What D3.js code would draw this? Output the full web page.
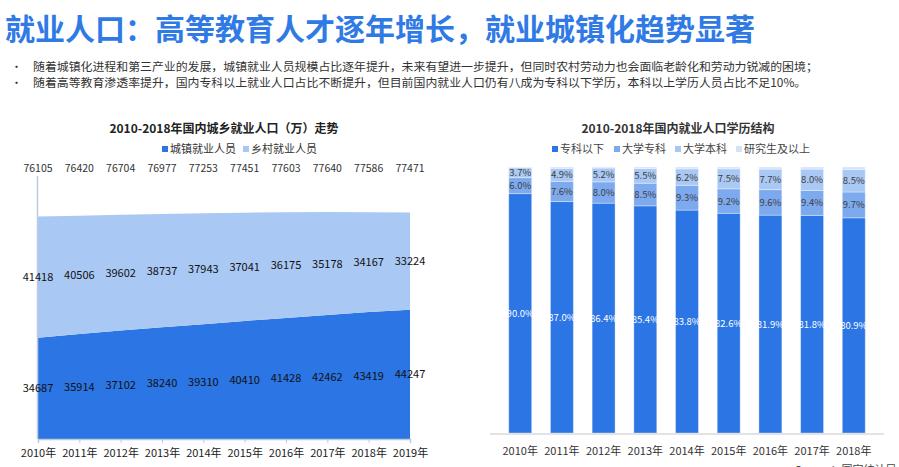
<!DOCTYPE html>
<html>
<head>
<meta charset="utf-8">
<script src="https://cdn.jsdelivr.net/npm/d3@7/dist/d3.min.js"></script>
<style>
  body { margin: 0; background: #fff; }
  svg { display: block; font-family: "Noto Sans CJK SC", "Noto Sans", sans-serif; }
</style>
</head>
<body>
<svg id="chart" width="899" height="467"></svg>
<script>
// left chart: urban / rural employment (万人)
var years = ['2010年', '2011年', '2012年', '2013年', '2014年', '2015年', '2016年', '2017年', '2018年', '2019年'];
var urban = [34687, 35914, 37102, 38240, 39310, 40410, 41428, 42462, 43419, 44247];
var rural = [41418, 40506, 39602, 38737, 37943, 37041, 36175, 35178, 34167, 33224];
var totals = [76105, 76420, 76704, 76977, 77253, 77451, 77603, 77640, 77586, 77471];

// right chart: education structure (%)
var eduYears = ['2010年', '2011年', '2012年', '2013年', '2014年', '2015年', '2016年', '2017年', '2018年'];
var belowCollege = [90.0, 87.0, 86.4, 85.4, 83.8, 82.6, 81.9, 81.8, 80.9];
var college = [6.0, 7.6, 8.0, 8.5, 9.3, 9.2, 9.6, 9.4, 9.7];
var bachelor = [3.7, 4.9, 5.2, 5.5, 6.2, 7.5, 7.7, 8.0, 8.5];
var graduate = [0.3, 0.5, 0.4, 0.6, 0.7, 0.7, 0.8, 0.8, 0.9];

var svg = d3.select('#chart');

// header
svg.append('text')
  .attr('x', 5).attr('y', 40)
  .attr('font-size', 30).attr('font-weight', 'bold')
  .attr('fill', '#2F7AE5')
  .text('就业人口：高等教育人才逐年增长，就业城镇化趋势显著');

var bullets = [
  '随着城镇化进程和第三产业的发展，城镇就业人员规模占比逐年提升，未来有望进一步提升，但同时农村劳动力也会面临老龄化和劳动力锐减的困境；',
  '随着高等教育渗透率提升，国内专科以上就业人口占比不断提升，但目前国内就业人口仍有八成为专科以下学历，本科以上学历人员占比不足10%。'
];
bullets.forEach(function(t, i) {
  var y = 71 + i * 16;
  svg.append('text').attr('x', 11).attr('y', y).attr('font-size', 11).attr('fill', '#333').text('•');
  svg.append('text').attr('x', 33).attr('y', y).attr('font-size', 11.9).attr('fill', '#333').text(t);
});

// ---------- left: stacked area ----------
var dark = '#2B75E4';
var light = '#A9C8F4';

var x = d3.scalePoint().domain(years).range([38, 410]);
var y = d3.scaleLinear().domain([0, 90000]).range([439, 176]);

var rows = years.map(function(yr, i) { return {year: yr, urban: urban[i], rural: rural[i]}; });
var series = d3.stack().keys(['urban', 'rural'])(rows);

var area = d3.area()
  .x(function(d) { return x(d.data.year); })
  .y0(function(d) { return y(d[0]); })
  .y1(function(d) { return y(d[1]); });

var left = svg.append('g');
left.selectAll('path.area').data(series).enter().append('path')
  .attr('class', 'area')
  .attr('d', area)
  .attr('fill', function(d, i) { return i === 0 ? dark : light; });

// axes
left.append('line').attr('x1', 37.5).attr('x2', 37.5).attr('y1', 176).attr('y2', 439)
  .attr('stroke', '#BCCBDD').attr('stroke-width', 1.5);
var xAxis = left.append('g').attr('transform', 'translate(0,439)')
  .call(d3.axisBottom(x).tickSize(4).tickPadding(6));
xAxis.select('.domain').attr('stroke', '#BCCBDD').attr('stroke-width', 1.5);
xAxis.selectAll('.tick line').attr('stroke', '#BCCBDD');
xAxis.selectAll('text').attr('font-size', 11).attr('fill', '#222')
  .attr('font-family', '"Noto Sans CJK SC", sans-serif');

// labels
series.forEach(function(s) {
  left.selectAll(null).data(s).enter().append('text')
    .attr('x', function(d) { return x(d.data.year); })
    .attr('y', function(d) { return (y(d[0]) + y(d[1])) / 2 + 4; })
    .attr('text-anchor', 'middle').attr('font-size', 11).attr('fill', '#111')
    .text(function(d) { return d.data[s.key]; });
});
left.selectAll(null).data(totals).enter().append('text')
  .attr('x', function(d, i) { return x(years[i]); })
  .attr('y', 172)
  .attr('text-anchor', 'middle').attr('font-size', 10.5).attr('fill', '#333')
  .text(function(d) { return d; });

left.append('text').attr('x', 224).attr('y', 133).attr('text-anchor', 'middle')
  .attr('font-size', 12).attr('font-weight', 'bold').attr('fill', '#222')
  .text('2010-2018年国内城乡就业人口（万）走势');

var leftLegend = [{name: '城镇就业人员', color: dark, x: 162}, {name: '乡村就业人员', color: light, x: 243}];
leftLegend.forEach(function(l) {
  left.append('rect').attr('x', l.x).attr('y', 146).attr('width', 6).attr('height', 6).attr('fill', l.color);
  left.append('text').attr('x', l.x + 8).attr('y', 153).attr('font-size', 11).attr('fill', '#333').text(l.name);
});

// ---------- right: 100% stacked bars ----------
var eduColors = ['#2B75E4', '#7DA9EE', '#A9C8F4', '#D5E3FA'];
var eduKeys = ['below', 'college', 'bachelor', 'graduate'];
var eduNames = ['专科以下', '大学专科', '大学本科', '研究生及以上'];

var xb = d3.scaleBand().domain(eduYears).range([490, 884]).padding(0.45);
var yb = d3.scaleLinear().domain([0, 100]).range([433, 167]);

var eduRows = eduYears.map(function(yr, i) {
  return {year: yr, below: belowCollege[i], college: college[i], bachelor: bachelor[i], graduate: graduate[i]};
});
var eduSeries = d3.stack().keys(eduKeys)(eduRows);

var right = svg.append('g');
var layers = right.selectAll('g.layer').data(eduSeries).enter().append('g')
  .attr('class', 'layer')
  .attr('fill', function(d, i) { return eduColors[i]; });
layers.selectAll('rect').data(function(d) { return d; }).enter().append('rect')
  .attr('x', function(d) { return xb(d.data.year); })
  .attr('width', xb.bandwidth())
  .attr('y', function(d) { return yb(d[1]); })
  .attr('height', function(d) { return yb(d[0]) - yb(d[1]); })
  .attr('stroke', '#fff').attr('stroke-opacity', 0.35).attr('stroke-width', 1);

eduSeries.slice(0, 3).forEach(function(s, k) {
  right.selectAll(null).data(s).enter().append('text')
    .attr('x', function(d) { return xb(d.data.year) + xb.bandwidth() / 2; })
    .attr('y', function(d) { return (yb(d[0]) + yb(d[1])) / 2 + 3.5; })
    .attr('text-anchor', 'middle').attr('font-size', 9.5)
    .attr('fill', k === 0 ? '#fff' : '#404040')
    .text(function(d) { return d.data[s.key].toFixed(1) + '%'; });
});

right.append('line').attr('x1', 490).attr('x2', 884).attr('y1', 434).attr('y2', 434)
  .attr('stroke', '#E3E3E3').attr('stroke-width', 2);
right.selectAll(null).data(eduYears).enter().append('text')
  .attr('x', function(d) { return xb(d) + xb.bandwidth() / 2; })
  .attr('y', 455)
  .attr('text-anchor', 'middle').attr('font-size', 11).attr('fill', '#333')
  .text(function(d) { return d; });

right.append('text').attr('x', 678).attr('y', 133).attr('text-anchor', 'middle')
  .attr('font-size', 12).attr('font-weight', 'bold').attr('fill', '#333')
  .text('2010-2018年国内就业人口学历结构');

var legendX = [552, 614, 675, 736];
eduNames.forEach(function(n, i) {
  right.append('rect').attr('x', legendX[i]).attr('y', 146).attr('width', 6).attr('height', 6).attr('fill', eduColors[i]);
  right.append('text').attr('x', legendX[i] + 8).attr('y', 153).attr('font-size', 11).attr('fill', '#444').text(n);
});

// source line sits at the very bottom edge, partly cut off as in the original slide
svg.append('text').attr('x', 795).attr('y', 474).attr('font-size', 11).attr('fill', '#444')
  .text('Source：国家统计局');
</script>
</body>
</html>
